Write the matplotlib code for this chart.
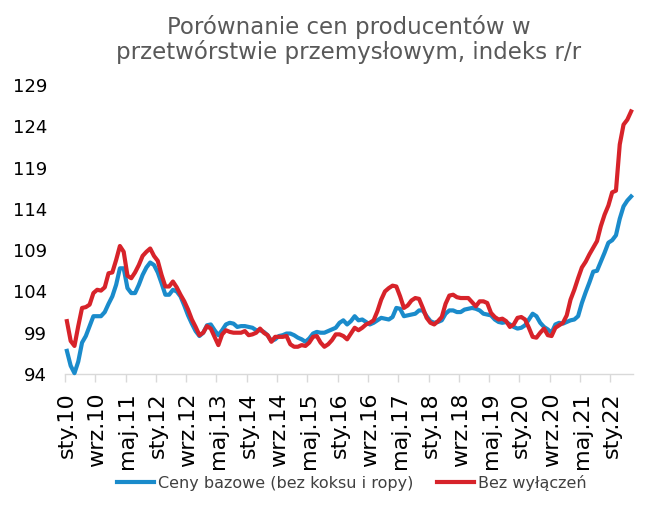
import matplotlib
matplotlib.use("Agg")
import matplotlib.pyplot as plt
import numpy as np

# Monthly data Jan 2010 .. Jun 2022 (index r/r, previous year = 100)
core_prices = [  # Ceny bazowe (bez koksu i ropy)
    96.8, 95.0, 94.1, 95.5, 97.8, 98.6, 99.8, 101.0, 101.0, 101.0,
    101.5, 102.5, 103.4, 104.8, 106.8, 106.8, 104.4, 103.8, 103.8, 104.8,
    106.0, 106.9, 107.5, 107.2, 106.3, 105.0, 103.6, 103.6, 104.2, 104.0,
    103.4, 102.3, 101.1, 100.1, 99.2, 98.6, 99.0, 99.9, 100.0, 99.3,
    98.7, 99.3, 100.0, 100.2, 100.1, 99.7, 99.8, 99.8, 99.7, 99.6,
    99.3, 99.3, 99.1, 98.7, 98.0, 98.2, 98.6, 98.7, 98.9, 98.9,
    98.7, 98.4, 98.2, 97.9, 98.3, 98.9, 99.1, 99.0, 99.0, 99.2,
    99.4, 99.6, 100.2, 100.5, 100.0, 100.4, 101.0, 100.5, 100.6, 100.3,
    100.0, 100.2, 100.5, 100.8, 100.7, 100.6, 100.9, 102.0, 101.9, 101.0,
    101.1, 101.2, 101.3, 101.7, 101.7, 101.0, 100.4, 100.2, 100.3, 100.5,
    101.3, 101.7, 101.7, 101.5, 101.5, 101.8, 101.9, 102.0, 101.9, 101.7,
    101.3, 101.2, 101.1, 100.6, 100.3, 100.2, 100.3, 100.0, 99.7, 99.5,
    99.6, 99.9, 100.6, 101.3, 101.0, 100.2, 99.7, 99.4, 99.0, 100.0,
    100.2, 100.1, 100.3, 100.5, 100.6, 101.0, 102.6, 103.9, 105.1, 106.4,
    106.5, 107.6, 108.7, 109.9, 110.2, 110.8, 112.8, 114.3, 115.0, 115.5,
]
all_prices = [  # Bez wyłączeń
    100.4, 98.0, 97.4, 99.8, 102.0, 102.1, 102.4, 103.8, 104.2, 104.1,
    104.5, 106.2, 106.3, 107.8, 109.5, 108.8, 105.9, 105.6, 106.3, 107.2,
    108.3, 108.8, 109.2, 108.3, 107.7, 106.0, 104.6, 104.6, 105.2, 104.5,
    103.6, 102.8, 101.8, 100.6, 99.7, 98.7, 99.0, 99.8, 99.5, 98.5,
    97.5, 98.8, 99.3, 99.1, 99.0, 99.0, 99.0, 99.2, 98.7, 98.8,
    99.0, 99.5, 99.0, 98.7, 97.9, 98.5, 98.5, 98.5, 98.6, 97.6,
    97.3, 97.3, 97.5, 97.4, 97.8, 98.5, 98.6, 97.8, 97.3, 97.6,
    98.1, 98.8, 98.8, 98.6, 98.2, 98.9, 99.6, 99.3, 99.6, 100.0,
    100.2, 100.5, 101.6, 103.0, 104.0, 104.4, 104.7, 104.6, 103.4, 102.0,
    102.3, 102.9, 103.2, 103.1, 102.0, 100.8, 100.2, 100.0, 100.4, 100.9,
    102.5, 103.5, 103.6, 103.3, 103.2, 103.2, 103.2, 102.7, 102.2, 102.8,
    102.8, 102.6, 101.4, 100.9, 100.6, 100.7, 100.4, 99.7, 100.0, 100.8,
    100.9, 100.6, 99.6, 98.5, 98.4, 99.0, 99.5, 98.7, 98.6, 99.6,
    99.9, 100.2, 101.1, 103.0, 104.2, 105.6, 106.9, 107.6, 108.5, 109.3,
    110.1, 111.9, 113.3, 114.4, 116.0, 116.2, 121.8, 124.2, 124.8, 125.8,
]
tick_labels = ["sty.10", "wrz.10", "maj.11", "sty.12", "wrz.12", "maj.13",
               "sty.14", "wrz.14", "maj.15", "sty.16", "wrz.16", "maj.17",
               "sty.18", "wrz.18", "maj.19", "sty.20", "wrz.20", "maj.21",
               "sty.22"]
y_ticks = [94, 99, 104, 109, 114, 119, 124, 129]
series_names = ["Ceny bazowe (bez koksu i ropy)", "Bez wyłączeń"]
title = "Porównanie cen producentów w\nprzetwórstwie przemysłowym, indeks r/r"

plt.rcParams['font.family'] = ['DejaVu Sans']

fig = plt.figure(figsize=(6.54, 5.08), dpi=100)
ax = fig.add_axes([65/654, 1-374/508, (633-65)/654, (374-85)/508])

n = len(core_prices)
x = np.arange(n)
blue = '#1A8BCB'
red = '#D7232A'
ax.plot(x, core_prices, color=blue, lw=3.0, label=series_names[0],
        solid_joinstyle='round', clip_on=False, zorder=3)
ax.plot(x, all_prices, color=red, lw=3.0, label=series_names[1],
        solid_joinstyle='round', clip_on=False, zorder=4)

ax.set_xlim(-0.5, n - 0.5)
ax.set_ylim(94, 129)
ax.set_yticks(y_ticks)
ax.set_yticklabels([str(v) for v in y_ticks], fontsize=13, color='black')
ax.tick_params(axis='y', length=0, pad=13)

major = np.arange(0, n, 8) - 0.5
ax.set_xticks(major)
ax.set_xticklabels([])
ax.tick_params(axis='x', which='major', length=6, color='#D9D9D9', width=1)
ax.set_xticks(np.arange(0, n, 8), minor=True)
ax.set_xticklabels(tick_labels, minor=True, rotation=90, fontsize=16,
                   color='black', va='top', ha='center')
ax.tick_params(axis='x', which='minor', length=0, pad=13)

for s in ['top', 'right', 'left']:
    ax.spines[s].set_visible(False)
ax.spines['bottom'].set_color('#D9D9D9')
ax.spines['bottom'].set_linewidth(1)

fig.text(349/654, 1-39.5/508, title, ha='center', va='center',
         fontsize=16.5, color='#595959', linespacing=1.1,
         multialignment='center')

fig.legend(loc='center', bbox_to_anchor=(351.5/654, 1-483/508), ncol=2,
           frameon=False, fontsize=11.5, handlelength=2.3,
           handletextpad=0.25, columnspacing=1.5, labelcolor='#404040')

fig.savefig('out.png', dpi=100)
